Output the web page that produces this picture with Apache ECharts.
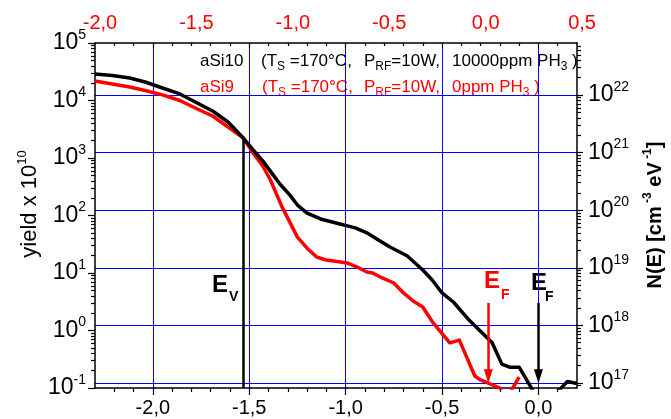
<!DOCTYPE html>
<html>
<head>
<meta charset="utf-8">
<script src="https://cdn.jsdelivr.net/npm/echarts@6/dist/echarts.min.js"></script>
<style>
  html, body { margin: 0; padding: 0; background: #fff; }
  #chart { width: 671px; height: 419px; }
</style>
</head>
<body>
<div id="chart"></div>
<script>
// energy (eV, bottom axis) and photoelectron yield (x 1e10)
const aSi10E = [-2.30, -2.21, -2.12, -2.04, -1.95, -1.86, -1.78, -1.69, -1.61, -1.53,
  -1.48, -1.43, -1.38, -1.34, -1.29, -1.25, -1.20, -1.13, -1.03, -0.95,
  -0.89, -0.83, -0.77, -0.68, -0.60, -0.55, -0.50, -0.44, -0.36, -0.27,
  -0.24, -0.19, -0.15, -0.10, 0.00, 0.06, 0.15, 0.20]
const aSi10Yield = [29000, 27200, 24600, 21000, 16500, 13000, 9400, 6560, 4230, 2200,
  1380, 890, 530, 350, 228, 152, 110, 87, 71, 61,
  50, 37.5, 28.3, 19.8, 11.3, 7.5, 4.5, 3.1, 1.52, 0.77,
  0.61, 0.26, 0.23, 0.23, 0.062, 0.062, 0.13, 0.12]

const aSi9E = [-2.30, -2.21, -2.12, -2.04, -1.95, -1.86, -1.78, -1.69, -1.61, -1.53,
  -1.48, -1.43, -1.39, -1.33, -1.25, -1.20, -1.15, -1.10, -0.99, -0.94,
  -0.89, -0.86, -0.81, -0.75, -0.70, -0.65, -0.60, -0.55, -0.46, -0.41,
  -0.33, -0.30, -0.20, -0.17, -0.10]
const aSi9Yield = [21800, 19400, 17200, 14900, 12500, 10000, 7400, 5370, 3460, 2230,
  1220, 726, 414, 141, 42, 27, 19, 16.8, 14.9, 12.7,
  10.4, 10, 8.2, 6.7, 4.5, 3.26, 2.56, 1.41, 0.61, 0.68,
  0.162, 0.138, 0.1, 0.062, 0.155]

// tick labels
const bottomTicks = [-2.0, -1.5, -1.0, -0.5, 0.0]
const topTicks = [-2.0, -1.5, -1.0, -0.5, 0.0, 0.5]
const leftDecades = [0.1, 1, 10, 100, 1000, 10000, 100000]
const rightDecades = [1e17, 1e18, 1e19, 1e20, 1e21, 1e22]

// E_V line and the two E_F arrows (energy, yield)
const evMark = { x: -1.53, from: 2200, to: 0.1 }
const efRedMark = { x: -0.26, from: 3.0, to: 0.16 }
const efBlackMark = { x: 0.0, from: 3.0, to: 0.16 }

const bottomMinor = []
for (let i = -22; i <= 1; i++) {
  if (i % 5 !== 0) bottomMinor.push(i / 10)
}
const leftMinor = []
for (let n = -1; n <= 4; n++) {
  for (let k = 2; k <= 9; k++) leftMinor.push(k * Math.pow(10, n))
}
const rightMinor = []
for (let n = 16; n <= 22; n++) {
  for (let k = 2; k <= 9; k++) rightMinor.push(k * Math.pow(10, n))
}

const FONT = 'Liberation Sans'
const BLUE = '#0000ff'

function zip(xs, ys) {
  return xs.map((x, i) => [x, ys[i]])
}
function comma(v) {
  return v.toFixed(1).replace('.', ',')
}
function decade(v) {
  return '10{sup|' + Math.round(Math.log10(v)) + '}'
}

const blackLine = { show: true, onZero: false, lineStyle: { color: '#000', width: 1.5 } }
const noLine = { show: false, onZero: false }
const tick = (values, len, inside) => ({
  show: true, inside: !!inside, length: len, customValues: values,
  lineStyle: { color: '#000', width: 1.2 }
})
const decadeLabel = {
  formatter: decade, color: '#000', fontFamily: FONT,
  fontSize: 23, lineHeight: 30, margin: 9,
  rich: { sup: { fontSize: 14, lineHeight: 14, verticalAlign: 'top', color: '#000', fontFamily: FONT } }
}

function text(x, y, str, color, size, extra) {
  return {
    type: 'text', x: x, y: y, silent: true,
    style: Object.assign({
      text: str, fill: color, fontFamily: FONT, fontSize: size,
      verticalAlign: 'middle', align: 'left', lineHeight: 22,
      rich: { s: { fontSize: 12, lineHeight: 12, verticalAlign: 'bottom', fill: color, fontFamily: FONT } }
    }, extra || {})
  }
}

const chart = echarts.init(document.getElementById('chart'))
chart.setOption({
  animation: false,
  backgroundColor: '#fff',
  grid: [
    { left: 95, right: 94, top: 43, bottom: 31, outerBoundsMode: 'none' },
    // only carries the shifted red top scale
    { left: 95, right: 71, top: 43, bottom: 31, outerBoundsMode: 'none' }
  ],
  xAxis: [
    {
      type: 'value', gridIndex: 0, position: 'bottom', min: -2.3, max: 0.2,
      axisLine: blackLine, axisTick: tick(bottomTicks, 7),
      axisLabel: { customValues: bottomTicks, formatter: comma, color: '#000', fontFamily: FONT, fontSize: 20, margin: 10 },
      splitLine: { show: true, lineStyle: { color: BLUE, width: 1 } }
    },
    {
      type: 'value', gridIndex: 0, position: 'bottom', min: -2.3, max: 0.2,
      axisLine: noLine, axisTick: tick(bottomMinor, 4), axisLabel: { show: false }, splitLine: { show: false }
    },
    {
      type: 'value', gridIndex: 0, position: 'top', min: -2.3, max: 0.2,
      axisLine: blackLine, axisTick: tick(bottomTicks, 5, true), axisLabel: { show: false }, splitLine: { show: false }
    },
    {
      type: 'value', gridIndex: 0, position: 'top', min: -2.3, max: 0.2,
      axisLine: noLine, axisTick: tick(bottomMinor, 3, true), axisLabel: { show: false }, splitLine: { show: false }
    },
    {
      type: 'value', gridIndex: 1, position: 'top', min: -2.026, max: 0.593,
      axisLine: noLine, axisTick: { show: false }, splitLine: { show: false },
      axisLabel: { customValues: topTicks, formatter: comma, color: '#ff0000', fontFamily: FONT, fontSize: 20, margin: 10 }
    }
  ],
  yAxis: [
    {
      type: 'log', logBase: 10, gridIndex: 0, position: 'left', min: 0.1, max: 100000,
      axisLine: blackLine, axisTick: tick(leftDecades, 7),
      axisLabel: Object.assign({}, decadeLabel, { customValues: leftDecades }),
      splitLine: { show: false }
    },
    {
      type: 'log', logBase: 10, gridIndex: 0, position: 'left', min: 0.1, max: 100000,
      axisLine: noLine, axisTick: tick(leftMinor, 4), axisLabel: { show: false }, splitLine: { show: false }
    },
    {
      type: 'log', logBase: 10, gridIndex: 0, position: 'right',
      min: Math.pow(10, 16.913), max: Math.pow(10, 22.903),
      axisLine: blackLine, axisTick: tick(rightDecades, 6),
      axisLabel: Object.assign({}, decadeLabel, { customValues: rightDecades, margin: 11 }),
      splitLine: { show: true, lineStyle: { color: BLUE, width: 1 } }
    },
    {
      type: 'log', logBase: 10, gridIndex: 0, position: 'right',
      min: Math.pow(10, 16.913), max: Math.pow(10, 22.903),
      axisLine: noLine, axisTick: tick(rightMinor, 4), axisLabel: { show: false }, splitLine: { show: false }
    },
    { type: 'value', gridIndex: 1, show: false, min: 0, max: 1, axisLine: noLine }
  ],
  series: [
    {
      name: 'aSi9', type: 'line', xAxisIndex: 0, yAxisIndex: 0, z: 10,
      data: zip(aSi9E, aSi9Yield), showSymbol: false, symbol: 'none',
      lineStyle: { color: '#ff0000', width: 3.5, join: 'round' },
      markLine: {
        silent: true, animation: false, z: 12, symbol: ['none', 'triangle'], symbolSize: [9, 14],
        label: { show: false }, lineStyle: { color: '#ff0000', width: 2.5, type: 'solid' },
        data: [[{ coord: [efRedMark.x, efRedMark.from] }, { coord: [efRedMark.x, efRedMark.to] }]]
      }
    },
    {
      name: 'aSi10', type: 'line', xAxisIndex: 0, yAxisIndex: 0, z: 11,
      data: zip(aSi10E, aSi10Yield), showSymbol: false, symbol: 'none',
      lineStyle: { color: '#000', width: 3.5, join: 'round' },
      markLine: {
        silent: true, animation: false, z: 12, symbol: ['none', 'triangle'], symbolSize: [9, 14],
        label: { show: false }, lineStyle: { color: '#000', width: 2.5, type: 'solid' },
        data: [
          [{ coord: [evMark.x, evMark.from], symbol: 'none' }, { coord: [evMark.x, evMark.to], symbol: 'none' }],
          [{ coord: [efBlackMark.x, efBlackMark.from] }, { coord: [efBlackMark.x, efBlackMark.to] }]
        ]
      }
    }
  ],
  graphic: [
    text(200, 61.5, 'aSi10', '#000', 17),
    text(261, 61.5, '(T{s|S} =170°C,', '#000', 17),
    text(364, 61.5, 'P{s|RF}=10W,', '#000', 17),
    text(452, 61.5, '10000ppm PH{s|3} )', '#000', 17),
    text(200, 87.5, 'aSi9', '#ff0000', 17),
    text(262, 87.5, '(T{s|S} =170°C,', '#ff0000', 17),
    text(364, 87.5, 'P{s|RF}=10W,', '#ff0000', 17),
    text(452, 87.5, '0ppm PH{s|3} )', '#ff0000', 17),
    // band-edge labels
    text(212, 285, 'E', '#000', 24, { fontWeight: 'bold' }),
    text(229, 297, 'V', '#000', 14, { fontWeight: 'bold' }),
    text(484, 281.5, 'E', '#ff0000', 24, { fontWeight: 'bold' }),
    text(501, 295.5, 'F', '#ff0000', 14, { fontWeight: 'bold' }),
    text(531, 283.5, 'E', '#000', 24, { fontWeight: 'bold' }),
    text(545, 297, 'F', '#000', 14, { fontWeight: 'bold' }),
    // axis titles
    {
      type: 'text', x: 30, y: 204, rotation: Math.PI / 2, silent: true,
      style: {
        text: 'yield x 10{sup|10}', fill: '#000', fontFamily: FONT, fontSize: 22, lineHeight: 28,
        align: 'center', verticalAlign: 'middle',
        rich: { sup: { fontSize: 13, lineHeight: 13, verticalAlign: 'top', fill: '#000', fontFamily: FONT } }
      }
    },
    {
      type: 'text', x: 655, y: 215, rotation: Math.PI / 2, silent: true,
      style: {
        text: 'N(E) [cm{sup| -3} eV{sup| -1}]', fill: '#000', fontFamily: FONT, fontSize: 20,
        fontWeight: 'bold', lineHeight: 26, align: 'center', verticalAlign: 'middle',
        rich: { sup: { fontSize: 12, lineHeight: 12, verticalAlign: 'top', fontWeight: 'bold', fill: '#000', fontFamily: FONT } }
      }
    }
  ]
})
</script>
</body>
</html>
